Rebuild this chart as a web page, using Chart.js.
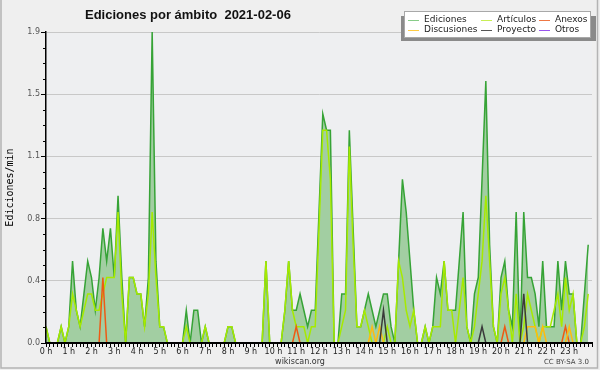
<!DOCTYPE html>
<html>
<head>
<meta charset="utf-8">
<script src="https://cdn.jsdelivr.net/npm/chart.js@4.4.0/dist/chart.umd.min.js"></script>
<style>
  html, body { margin: 0; padding: 0; background: #efefef; }
  #wrap { width: 600px; height: 370px; position: relative; }
</style>
</head>
<body>
<div id="wrap"><canvas id="chart" width="600" height="370"></canvas></div>
<script>
// one value every 10 minutes, 144 slots for the day (edits per minute)
const ediciones = [
  0.1,0,0,0,0.1,0,0.1,0.5,0.2,0.1,0.3,0.5,
  0.4,0.2,0.4,0.7,0.5,0.7,0.4,0.9,0.4,0,0.4,0.4,
  0.3,0.3,0.1,0.4,1.9,0.5,0.1,0.1,0,0,0,0,
  0,0.2,0,0.2,0.2,0,0.1,0,0,0,0,0,
  0.1,0.1,0,0,0,0,0,0,0,0,0.5,0,
  0,0,0,0.2,0.5,0.2,0.2,0.3,0.2,0.1,0.2,0.2,
  0.8,1.4,1.3,1.3,0,0,0.3,0.3,1.3,0.7,0.1,0.1,
  0.2,0.3,0.2,0.1,0.2,0.3,0.3,0.1,0,0.5,1.0,0.8,
  0.5,0.2,0,0,0.1,0,0.1,0.4,0.3,0.5,0.2,0.2,
  0.2,0.5,0.8,0.1,0,0.3,0.4,1.0,1.6,0.6,0.1,0,
  0.4,0.5,0.2,0.1,0.8,0,0.8,0.4,0.4,0.3,0.1,0.5,
  0.1,0.1,0.1,0.5,0.2,0.5,0.3,0.3,0,0,0.3,0.6
];
const articulos = [
  0.1,0,0,0,0.1,0,0.1,0.3,0.2,0.1,0.2,0.3,
  0.3,0.2,0.2,0.3,0.4,0.4,0.4,0.8,0.3,0,0.4,0.4,
  0.3,0.3,0.1,0.3,0.8,0.4,0.1,0.1,0,0,0,0,
  0,0.1,0,0,0,0,0.1,0,0,0,0,0,
  0.1,0.1,0,0,0,0,0,0,0,0,0.5,0,
  0,0,0,0.2,0.5,0.2,0.1,0.1,0.1,0,0.1,0.1,
  0.7,1.3,1.3,1.0,0,0,0.1,0.2,1.2,0.6,0.1,0.1,
  0.2,0.1,0,0,0,0,0.1,0,0,0.5,0.4,0.2,
  0.1,0.2,0,0,0.1,0,0.1,0.1,0.1,0.5,0.2,0.2,
  0,0.2,0.4,0.1,0,0.1,0.3,0.5,0.9,0.5,0.1,0,
  0.3,0.4,0.2,0,0.3,0,0.1,0.3,0.2,0.1,0,0.1,
  0.1,0.1,0.2,0.3,0.1,0.4,0.2,0.3,0,0,0.1,0.3
];
const anexos = [
  0,0,0,0,0,0,0,0,0,0,0,0,
  0,0,0,0.4,0,0,0,0,0,0,0,0,
  0,0,0,0,0,0,0,0,0,0,0,0,
  0,0,0,0,0,0,0,0,0,0,0,0,
  0,0,0,0,0,0,0,0,0,0,0,0,
  0,0,0,0,0,0,0.1,0,0,0,0,0,
  0,0,0,0,0,0,0,0,0,0,0,0,
  0,0,0,0,0,0,0,0,0,0,0,0,
  0,0,0,0,0,0,0,0,0,0,0,0,
  0,0,0,0,0,0,0,0,0,0,0,0,
  0,0.1,0,0,0,0,0,0,0,0,0,0,
  0,0,0,0,0,0.1,0,0,0,0,0,0
];
const discusiones = [
  0,0,0,0,0,0,0,0,0,0,0,0,
  0,0,0,0,0,0,0,0,0,0,0,0,
  0,0,0,0,0,0,0,0,0,0,0,0,
  0,0,0,0,0,0,0,0,0,0,0,0,
  0,0,0,0,0,0,0,0,0,0,0,0,
  0,0,0,0,0,0,0,0,0,0,0,0,
  0,0,0,0,0,0,0,0,0,0,0,0,
  0,0,0.1,0,0.1,0,0,0,0,0,0,0,
  0,0,0,0,0,0,0,0,0,0,0,0,
  0,0,0,0,0,0,0,0,0,0,0,0,
  0,0,0,0,0,0,0,0.1,0.1,0.1,0,0.1,
  0,0,0,0,0,0,0.1,0,0,0,0,0
];
const proyecto = [
  0,0,0,0,0,0,0,0,0,0,0,0,
  0,0,0,0,0,0,0,0,0,0,0,0,
  0,0,0,0,0,0,0,0,0,0,0,0,
  0,0,0,0,0,0,0,0,0,0,0,0,
  0,0,0,0,0,0,0,0,0,0,0,0,
  0,0,0,0,0,0,0,0,0,0,0,0,
  0,0,0,0,0,0,0,0,0,0,0,0,
  0,0,0,0,0,0.2,0,0,0,0,0,0,
  0,0,0,0,0,0,0,0,0,0,0,0,
  0,0,0,0,0,0,0,0.1,0,0,0,0,
  0,0,0,0,0,0,0.3,0,0,0,0,0,
  0,0,0,0,0,0,0,0,0,0,0,0
];
const otros = [
  0,0,0,0,0,0,0,0,0,0,0,0,
  0,0,0,0,0,0,0,0,0,0,0,0,
  0,0,0,0,0,0,0,0,0,0,0,0,
  0,0,0,0,0,0,0,0,0,0,0,0,
  0,0,0,0,0,0,0,0,0,0,0,0,
  0,0,0,0,0,0,0,0,0,0,0,0,
  0,0,0,0,0,0,0,0,0,0,0,0,
  0,0,0,0,0,0,0,0,0,0,0,0,
  0,0,0,0,0,0,0,0,0,0,0,0,
  0,0,0,0,0,0,0,0,0,0,0,0,
  0,0,0,0,0,0,0,0,0,0,0,0,
  0,0,0,0,0,0,0,0,0,0,0,0
];

const xTickLabels = ["0 h","1 h","2 h","3 h","4 h","5 h","6 h","7 h","8 h","9 h","10 h","11 h",
                     "12 h","13 h","14 h","15 h","16 h","17 h","18 h","19 h","20 h","21 h","22 h","23 h"];
const yTickLabels = ["0.0","0.4","0.8","1.1","1.5","1.9"];
const yMax = 1.9;
const slotsPerHour = 6;

const titleText = "Ediciones por ámbito  2021-02-06";
const yTitle = "Ediciones/min";

// slot index -> hour on the x axis
const pts = arr => arr.map((v, i) => ({ x: i / slotsPerHour, y: v }));

const lineCol = { Ediciones:"#36a336", "Artículos":"#a6ea00", Anexos:"#ee5a14", Discusiones:"#ffbb10", Proyecto:"#3a3a3a", Otros:"#8a3ee6" };
const legendCol = { Ediciones:"#88cc88", "Artículos":"#c8ee55", Anexos:"#ee7744", Discusiones:"#ffcc44", Proyecto:"#555555", Otros:"#9955ee" };

const series = [
  ["Ediciones", ediciones],
  ["Artículos", articulos],
  ["Anexos", anexos],
  ["Discusiones", discusiones],
  ["Proyecto", proyecto],
  ["Otros", otros]
];

const datasets = series.map(([name, arr], k) => ({
  label: name,
  data: pts(arr),
  borderColor: lineCol[name],
  backgroundColor: k === 0 ? "#a2cea2" : lineCol[name],
  fill: k === 0 ? "origin" : false,
  borderWidth: 1.5,
  order: 10 - k
}));

const decor = {
  id: "decor",
  beforeDraw(chart) {
    const { ctx, chartArea: a } = chart;
    ctx.save();
    ctx.fillStyle = "#efefef";
    ctx.fillRect(0, 0, chart.width, chart.height);
    ctx.fillStyle = "#eeeff1";
    ctx.fillRect(a.left, a.top, a.right - a.left, a.bottom - a.top);
    ctx.restore();
  },
  afterDraw(chart) {
    const { ctx } = chart;
    const ys = chart.scales.y;
    ctx.save();

    // minor ticks on y
    ctx.strokeStyle = "#000";
    ctx.lineWidth = 1;
    const steps = (yTickLabels.length - 1) * 4;
    for (let k = 1; k < steps; k++) {
      if (k % 4 === 0) continue;
      const y = Math.round(ys.getPixelForValue(yMax * k / steps)) + 0.5;
      ctx.beginPath();
      ctx.moveTo(ys.right - 3, y);
      ctx.lineTo(ys.right, y);
      ctx.stroke();
    }

    // title
    ctx.fillStyle = "#111";
    ctx.font = "bold 13px 'Liberation Sans'";
    ctx.textAlign = "left";
    ctx.textBaseline = "alphabetic";
    ctx.fillText(titleText, 85, 18.5);

    // y title
    ctx.save();
    ctx.translate(10, (chart.chartArea.top + chart.chartArea.bottom) / 2);
    ctx.rotate(-Math.PI / 2);
    ctx.font = "10px 'DejaVu Sans Mono'";
    ctx.textAlign = "center";
    ctx.textBaseline = "middle";
    ctx.fillStyle = "#000";
    ctx.fillText(yTitle, 0, 0);
    ctx.restore();

    // legend box with shadow
    ctx.fillStyle = "#8a8a8a";
    ctx.fillRect(401, 16, 195, 25);
    ctx.fillStyle = "#fff";
    ctx.fillRect(404, 11, 187, 27);
    ctx.strokeStyle = "#a8a8a8";
    ctx.strokeRect(404.5, 11.5, 186, 26);
    const colX = [408, 481, 539];
    const rowY = [19.5, 29.5];
    ctx.font = "9px 'DejaVu Sans'";
    ctx.textBaseline = "middle";
    series.forEach(([name], k) => {
      const cx = colX[k % 3], cy = rowY[Math.floor(k / 3)];
      ctx.strokeStyle = legendCol[name];
      ctx.lineWidth = 1;
      ctx.beginPath();
      ctx.moveTo(cx, Math.round(cy) + 0.5);
      ctx.lineTo(cx + 11, Math.round(cy) + 0.5);
      ctx.stroke();
      ctx.fillStyle = "#222";
      ctx.fillText(name, cx + 16, cy);
    });

    // footer
    ctx.fillStyle = "#333";
    ctx.font = "8px 'DejaVu Sans'";
    ctx.textAlign = "center";
    ctx.fillText("wikiscan.org", 300, 362);
    ctx.fillStyle = "#444";
    ctx.font = "7px 'DejaVu Sans'";
    ctx.textAlign = "right";
    ctx.fillText("CC BY-SA 3.0", 589, 362);

    // outer frame
    ctx.strokeStyle = "#b4b4b4";
    ctx.lineWidth = 1.5;
    ctx.beginPath();
    ctx.moveTo(1, 0);
    ctx.lineTo(1, 368);
    ctx.lineTo(597.5, 368);
    ctx.lineTo(597.5, 0);
    ctx.stroke();
    ctx.restore();
  }
};

new Chart(document.getElementById("chart"), {
  type: "line",
  data: { datasets },
  options: {
    responsive: false,
    animation: false,
    devicePixelRatio: 1,
    layout: { padding: { top: 32, right: 8, left: 0, bottom: 0 } },
    elements: { point: { radius: 0 }, line: { tension: 0 } },
    plugins: { legend: { display: false }, tooltip: { enabled: false }, title: { display: false } },
    scales: {
      x: {
        type: "linear",
        min: 0,
        max: xTickLabels.length,
        afterBuildTicks: s => {
          const t = [];
          for (let k = 0; k <= xTickLabels.length * slotsPerHour; k++) t.push({ value: k / slotsPerHour });
          s.ticks = t;
        },
        ticks: {
          autoSkip: false,
          maxRotation: 0,
          padding: 0,
          color: "#222",
          font: { family: "DejaVu Sans", size: 8 },
          callback: (v, i) => (i % slotsPerHour === 0 && xTickLabels[i / slotsPerHour]) || ""
        },
        grid: { drawOnChartArea: false, tickLength: 4, tickColor: "#000", tickWidth: 1 },
        border: { color: "#000", width: 2, z: 1 },
        afterFit: s => { s.height = 27; }
      },
      y: {
        min: 0,
        max: yMax,
        afterBuildTicks: s => {
          s.ticks = yTickLabels.map((_, k) => ({ value: yMax * k / (yTickLabels.length - 1) }));
        },
        ticks: {
          padding: 1,
          color: "#555",
          font: { family: "DejaVu Sans", size: 8 },
          callback: (v, i) => yTickLabels[i]
        },
        grid: {
          color: c => (c.index === 0 ? "rgba(0,0,0,0)" : "#c8c8c8"),
          tickLength: 5,
          tickColor: "#000",
          tickWidth: 1
        },
        border: { color: "#000", width: 1.5, z: 1 },
        afterFit: s => { s.width = 46; }
      }
    }
  },
  plugins: [decor]
});
</script>
</body>
</html>
